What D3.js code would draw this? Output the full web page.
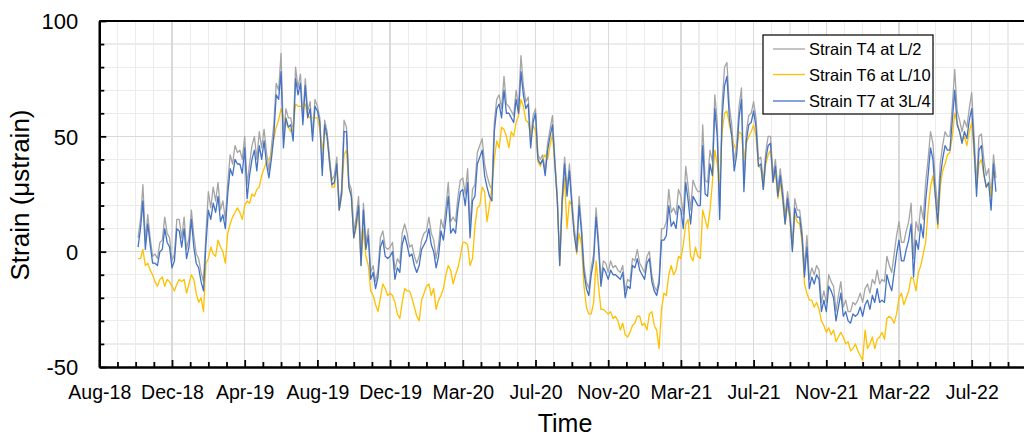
<!DOCTYPE html>
<html>
<head>
<meta charset="utf-8">
<script src="https://cdn.jsdelivr.net/npm/d3@7/dist/d3.min.js"></script>
<style>
  body { margin: 0; background: #fff; }
  svg { display: block; font-family: "Liberation Sans", Arial, sans-serif; }
</style>
</head>
<body>
<svg id="chart" width="1024" height="436"></svg>
<script>
// Strain readings, one every 4 days from the first date
const firstDay = "2018-10-11";
const stepDays = 4;

const strainT4 = [
  6, 14, 29, 5, 16, 6, -2, -1, -3, 4,
  5, 15, 8, 6, -4, -1, 14, 14, 6, 15,
  1, 6, 18, 7, -1, -3, -9, -13, 8, 26,
  19, 28, 22, 30, 18, 22, 14, 30, 42, 38,
  46, 43, 44, 40, 50, 29, 38, 46, 50, 40,
  52, 45, 53, 43, 35, 45, 55, 73, 70, 86,
  49, 62, 58, 58, 52, 80, 71, 77, 58, 75,
  61, 65, 51, 66, 63, 58, 36, 57, 52, 41,
  31, 33, 41, 20, 27, 57, 54, 30, 27, 9,
  15, 24, -3, 21, 4, 10, -9, -6, -13, -8,
  6, 9, 2, 1, 2, 4, -8, -3, -5, 8,
  12, 8, 2, 3, -2, -5, -2, 5, 8, 9,
  15, 8, 5, -3, 3, 14, 10, 19, 30, 13,
  15, 13, 24, 31, 32, 25, 36, 11, 27, 29,
  43, 46, 49, 38, 33, 29, 27, 56, 66, 68,
  62, 76, 64, 63, 61, 59, 70, 63, 85, 72,
  65, 67, 48, 59, 62, 42, 40, 42, 35, 47,
  53, 59, 40, 24, -4, 24, 41, 27, 38, 23,
  10, 3, 24, 11, -6, -13, -16, -7, -1, 19,
  5, -12, -4, -5, -9, -4, -7, -6, -8, -9,
  -6, -17, -12, -13, -3, -4, 1, -5, -7, -9,
  -2, 0, -10, -15, -17, -12, 10, 10, 13, 27,
  17, 19, 16, 27, 24, 16, 37, 28, 18, 31,
  28, 26, 26, 55, 31, 30, 44, 39, 68, 56,
  18, 64, 80, 82, 63, 55, 39, 46, 63, 71,
  30, 52, 59, 60, 65, 58, 40, 41, 30, 43,
  50, 50, 33, 40, 27, 36, 27, 15, 26, 18,
  3, 23, 18, 18, 9, -7, 7, -12, -7, -10,
  -6, -8, -22, -17, -22, -10, -13, -15, -26, -19,
  -13, -24, -21, -26, -26, -22, -23, -21, -18, -22,
  -16, -14, -18, -12, -14, -8, -14, -12, -13, -2,
  -6, -9, -1, 7, 13, 4, 4, 9, 13, 21,
  -3, 13, 9, 20, 14, 30, 40, 52, 47, 30,
  18, 38, 46, 52, 50, 50, 63, 79, 61, 57,
  52, 57, 54, 62, 69, 50, 29, 50, 51, 40,
  33, 36, 24, 42, 32
];

const strainT6 = [
  -3, -3, 1, -6, -5, -8, -10, -13, -15, -12,
  -11, -15, -12, -13, -15, -17, -14, -12, -13, -12,
  -18, -14, -10, -12, -18, -22, -20, -26, -5, -3,
  2, -1, -2, 5, 2, 0, -5, 8, 12, 15,
  17, 19, 17, 14, 20, 22, 21, 25, 24, 27,
  28, 33, 36, 39, 40, 42, 49, 54, 57, 62,
  58, 56, 54, 52, 54, 64, 63, 63, 63, 64,
  59, 58, 58, 58, 58, 53, 44, 52, 50, 38,
  28, 28, 37, 18, 24, 42, 44, 28, 24, 6,
  10, 18, -6, 10, -2, -6, -17, -19, -23, -26,
  -20, -14, -16, -19, -18, -19, -22, -27, -29, -22,
  -16, -17, -17, -20, -24, -28, -30, -21, -18, -15,
  -14, -19, -16, -25, -21, -19, -16, -10, -6, -8,
  -14, -10, -7, -2, 4, 4, 3, -6, -3, 11,
  19, 20, 28, 26, 13, 20, 28, 40, 48, 45,
  54, 53, 50, 45, 52, 50, 56, 59, 66, 63,
  57, 56, 50, 55, 52, 39, 37, 40, 42, 40,
  46, 51, 37, 22, -6, 20, 32, 10, 22, 20,
  8, -1, 8, 3, -15, -24, -27, -27, -22, -4,
  -15, -25, -25, -26, -27, -26, -29, -28, -30, -34,
  -31, -36, -37, -35, -32, -31, -28, -28, -32, -31,
  -34, -27, -26, -32, -34, -42, -25, -18, -19, -10,
  -6, -10, -8, -2, -3, 3, 12, 14, -2, -4,
  2, -2, -3, 18, 14, 10, 18, 30, 44, 38,
  30, 52, 60, 61, 55, 50, 46, 44, 52, 51,
  40, 47, 50, 52, 55, 50, 37, 36, 27, 38,
  42, 44, 30, 35, 23, 30, 22, 12, 20, 14,
  1, 16, 13, 12, 4, -14, -18, -21, -21, -24,
  -22, -25, -30, -32, -35, -33, -36, -34, -39, -37,
  -35, -37, -40, -39, -43, -42, -40, -43, -45, -47,
  -34, -42, -40, -37, -42, -38, -37, -35, -38, -29,
  -28, -29, -31, -27, -20, -18, -23, -20, -17, -11,
  -12, -17, -9, -6, -1, 4, 18, 28, 33, 24,
  10, 28, 35, 38, 42, 43, 50, 60, 56, 52,
  48, 50, 46, 52, 56, 42, 28, 38, 40, 33,
  28, 30, 24, 34, 33
];

const strainT7 = [
  2, 10, 22, 1, 12, 3, -5, -5, -6, 0,
  1, 10, 4, 2, -7, -4, 10, 9, 2, 10,
  -3, 2, 14, 2, -5, -7, -13, -17, 3, 18,
  14, 21, 17, 24, 13, 16, 10, 25, 36, 33,
  40, 38, 38, 34, 45, 23, 33, 40, 44, 35,
  46, 40, 48, 38, 32, 40, 50, 68, 66, 78,
  45, 58, 54, 55, 48, 75, 68, 73, 55, 72,
  58, 62, 48, 63, 61, 56, 33, 55, 50, 39,
  29, 30, 38, 18, 25, 52, 52, 28, 24, 6,
  12, 20, -6, 18, 1, 7, -12, -9, -16, -11,
  2, 5, -2, -3, -2, 0, -12, -7, -9, 3,
  7, 3, -2, -1, -6, -9, -6, 1, 3, 5,
  10, 3, 0, -7, -2, 9, 5, 14, 24, 8,
  10, 8, 19, 26, 27, 20, 30, 6, 22, 24,
  38, 41, 44, 33, 28, 24, 22, 52, 62, 64,
  58, 70, 60, 60, 58, 56, 66, 60, 78, 68,
  62, 64, 45, 56, 60, 40, 38, 40, 33, 44,
  50, 55, 38, 22, -6, 22, 38, 24, 35, 20,
  7, 0, 20, 8, -9, -16, -19, -10, -4, 15,
  2, -15, -7, -9, -12, -8, -10, -10, -11, -12,
  -9, -20, -15, -16, -6, -7, -3, -8, -10, -12,
  -5, -3, -13, -17, -19, -14, 5, 5, 7, 20,
  11, 13, 10, 20, 18, 10, 30, 22, 12, 24,
  22, 20, 20, 46, 25, 24, 38, 33, 62, 50,
  14, 58, 72, 76, 58, 50, 35, 42, 58, 66,
  26, 48, 55, 56, 61, 54, 37, 38, 27, 40,
  46, 47, 30, 37, 24, 33, 24, 12, 23, 15,
  0, 19, 15, 15, 6, -11, 2, -16, -11, -14,
  -10, -12, -26, -21, -26, -15, -17, -20, -30, -24,
  -18, -28, -26, -30, -31, -27, -28, -27, -24, -28,
  -23, -21, -25, -19, -22, -16, -22, -21, -22, -10,
  -14, -17, -9, -1, 5, -4, -4, 1, 5, 12,
  -11, 5, 1, 12, 6, 22, 33, 45, 40, 24,
  12, 32, 40, 46, 44, 44, 57, 70, 55, 52,
  47, 52, 49, 57, 62, 45, 24, 44, 46, 34,
  28, 30, 18, 38, 26
];

const seriesNames = ["Strain T4 at L/2", "Strain T6 at L/10", "Strain T7 at 3L/4"];
const seriesColors = ["#A5A5A5", "#FFC000", "#4472C4"];

// Date axis: starts on a 120-day boundary, major every 120 days, minor every 30
const axisStart = "2018-08-08";
const axisSpanDays = 1560;
const majorStepDays = 120;
const minorStepDays = 30;
const xTickLabels = ["Aug-18", "Dec-18", "Apr-19", "Aug-19", "Dec-19", "Mar-20", "Jul-20",
                     "Nov-20", "Mar-21", "Jul-21", "Nov-21", "Mar-22", "Jul-22"];

const yMajorTicks = [-50, 0, 50, 100];
const yMinorStep = 10;

// ---- layout ----
const plot = { left: 99.3, top: 21, bottom: 367, right: 1044.4 };
const svg = d3.select("#chart");
const parse = d3.utcParse("%Y-%m-%d");
const t0 = parse(axisStart);

const x = d3.scaleUtc()
  .domain([t0, d3.utcDay.offset(t0, axisSpanDays)])
  .range([plot.left, plot.right]);
const y = d3.scaleLinear().domain([-50, 100]).range([plot.bottom, plot.top]);

const majorDates = d3.range(0, axisSpanDays + 1, majorStepDays).map(d => d3.utcDay.offset(t0, d));
const minorDates = d3.range(0, axisSpanDays + 1, minorStepDays)
  .filter(d => d % majorStepDays !== 0).map(d => d3.utcDay.offset(t0, d));
const yMinor = d3.range(-50, 100 + 1, yMinorStep).filter(v => !yMajorTicks.includes(v));

// ---- gridlines ----
const grid = svg.append("g").attr("shape-rendering", "crispEdges");
grid.selectAll("line.vmin").data(minorDates).join("line")
  .attr("x1", d => x(d)).attr("x2", d => x(d))
  .attr("y1", plot.top).attr("y2", plot.bottom)
  .attr("stroke", "#ececec").attr("stroke-width", 1.2);
grid.selectAll("line.hmin").data(yMinor).join("line")
  .attr("x1", plot.left).attr("x2", plot.right)
  .attr("y1", d => y(d)).attr("y2", d => y(d))
  .attr("stroke", "#ececec").attr("stroke-width", 1.2);
grid.selectAll("line.vmaj").data(majorDates.slice(1)).join("line")
  .attr("x1", d => x(d)).attr("x2", d => x(d))
  .attr("y1", plot.top).attr("y2", plot.bottom)
  .attr("stroke", "#d9d9d9").attr("stroke-width", 1.3);
grid.selectAll("line.hmaj").data(yMajorTicks.filter(v => v > -50 && v < 100)).join("line")
  .attr("x1", plot.left).attr("x2", plot.right)
  .attr("y1", d => y(d)).attr("y2", d => y(d))
  .attr("stroke", "#d9d9d9").attr("stroke-width", 1.3);

// top border of the plot area
svg.append("line")
  .attr("x1", plot.left).attr("x2", plot.right)
  .attr("y1", plot.top).attr("y2", plot.top)
  .attr("stroke", "#000").attr("stroke-width", 2.2);

// ---- series ----
const d0 = parse(firstDay);
const seriesValues = [strainT4, strainT6, strainT7];
const line = d3.line()
  .x((v, i) => x(d3.utcDay.offset(d0, i * stepDays)))
  .y(v => y(v));

svg.append("g").selectAll("path").data(seriesValues).join("path")
  .attr("d", line)
  .attr("fill", "none")
  .attr("stroke", (d, i) => seriesColors[i])
  .attr("stroke-width", 1.3)
  .attr("stroke-linejoin", "round");

// ---- axes ----
const fontAxis = 19.5;

const yAxis = d3.axisLeft(y).tickValues(yMajorTicks).tickSize(-7).tickSizeOuter(0).tickPadding(21)
  .tickFormat(d => String(d));
const gy = svg.append("g").attr("transform", `translate(${plot.left},0)`).call(yAxis);
const yAxisMinor = d3.axisLeft(y).tickValues(yMinor).tickSize(-5).tickSizeOuter(0).tickFormat("");
const gym = svg.append("g").attr("transform", `translate(${plot.left},0)`).call(yAxisMinor);

const xAxis = d3.axisBottom(x).tickValues(majorDates).tickSize(-7).tickSizeOuter(0).tickPadding(18)
  .tickFormat((d, i) => xTickLabels[i] || "");
const gx = svg.append("g").attr("transform", `translate(0,${plot.bottom})`).call(xAxis);
const xAxisMinor = d3.axisBottom(x).tickValues(minorDates).tickSize(-5).tickSizeOuter(0).tickFormat("");
const gxm = svg.append("g").attr("transform", `translate(0,${plot.bottom})`).call(xAxisMinor);

[gy, gym, gx, gxm].forEach(g => {
  g.select(".domain").attr("stroke", "#000").attr("stroke-width", 2.2);
  g.selectAll(".tick line").attr("stroke", "#000").attr("stroke-width", 1.8);
  g.selectAll("text").attr("fill", "#000").attr("font-family", "Liberation Sans, Arial, sans-serif");
});
gy.selectAll("text").attr("font-size", 22).attr("dy", "0.36em");
gx.selectAll("text").attr("font-size", fontAxis);

// ---- axis titles ----
svg.append("text")
  .attr("transform", "translate(29,195) rotate(-90)")
  .attr("text-anchor", "middle")
  .attr("font-size", 26)
  .attr("fill", "#000")
  .text("Strain (μstrain)");

svg.append("text")
  .attr("x", 565).attr("y", 432)
  .attr("text-anchor", "middle")
  .attr("font-size", 25)
  .attr("fill", "#000")
  .text("Time");

// ---- legend ----
const legend = svg.append("g");
legend.append("rect")
  .attr("x", 763).attr("y", 35).attr("width", 170).attr("height", 79)
  .attr("fill", "#fff").attr("stroke", "#000").attr("stroke-width", 1.2);
const legendRows = [49, 74.5, 101];
seriesNames.forEach((name, i) => {
  legend.append("line")
    .attr("x1", 773).attr("x2", 805)
    .attr("y1", legendRows[i]).attr("y2", legendRows[i])
    .attr("stroke", seriesColors[i]).attr("stroke-width", 1.3);
  legend.append("text")
    .attr("x", 809).attr("y", legendRows[i] + 6)
    .attr("font-size", 16.5).attr("fill", "#000")
    .text(name);
});
</script>
</body>
</html>
